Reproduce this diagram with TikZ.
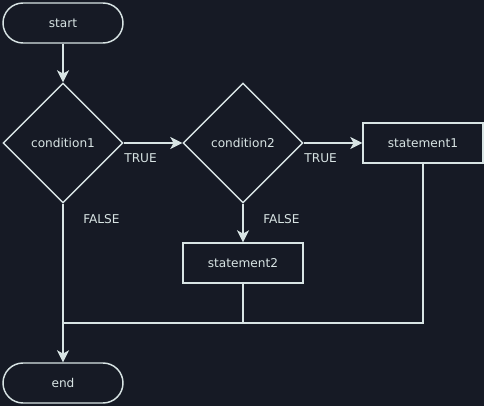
\documentclass[tikz,border=0pt]{standalone}
\usepackage{fontspec}
\setmainfont{DejaVu Sans}
\usetikzlibrary{shapes.geometric,arrows.meta}
\definecolor{bg}{HTML}{161A25}
\definecolor{ink}{HTML}{D8E4E4}
\tikzset{
  base/.style={draw=ink,line width=1.1pt,text=ink,font=\fontsize{9.1}{11}\selectfont,inner sep=0pt},
  terminal/.style={base,rectangle,rounded corners=15pt,minimum width=90pt,minimum height=30pt},
  decision/.style={base,diamond,aspect=1,minimum width=90pt,minimum height=90pt},
  process/.style={base,rectangle,minimum width=90pt,minimum height=30pt},
  flow/.style={draw=ink,line width=1.1pt,-{Stealth[length=9pt,width=9pt,inset=2.5pt]}},
  link/.style={draw=ink,line width=1.1pt},
  tag/.style={text=ink,font=\fontsize{9.1}{11}\selectfont,inner sep=0pt}
}

\begin{document}
\begin{tikzpicture}[x=0.75pt,y=-0.75pt]
  \fill[bg] (0,0) rectangle (484,406);
  \useasboundingbox (0,0) rectangle (484,406);

  \node[terminal] (start) at (63,23) {start};
  \node[decision] (cond1) at (63,143) {condition1};
  \node[decision] (cond2) at (243,143) {condition2};
  \node[process] (stmt1) at (423,143) {statement1};
  \node[process] (stmt2) at (243,263) {statement2};
  \node[terminal] (end) at (63,383) {end};
  \coordinate (join) at (63,323);

  \draw[flow] (start) -- (cond1);
  \draw[flow] (cond1) -- (cond2);
  \draw[flow] (cond2) -- (stmt1);
  \draw[flow] (cond2) -- (stmt2);
  \draw[flow] (cond1) -- (end);
  \draw[link] (stmt2) -- (stmt2 |- join);
  \draw[link] (stmt1) |- (join);

  \node[tag,anchor=west] (true1) at ([xshift=0.3pt,yshift=-11.3pt]cond1.east) {TRUE};
  \node[tag,anchor=west] (true2) at ([xshift=0.3pt,yshift=-11.3pt]cond2.east) {TRUE};
  \node[tag,anchor=west] (false1) at ([xshift=15pt,yshift=-11.3pt]cond1.south) {FALSE};
  \node[tag,anchor=west] (false2) at ([xshift=15pt,yshift=-11.3pt]cond2.south) {FALSE};
\end{tikzpicture}
\end{document}
